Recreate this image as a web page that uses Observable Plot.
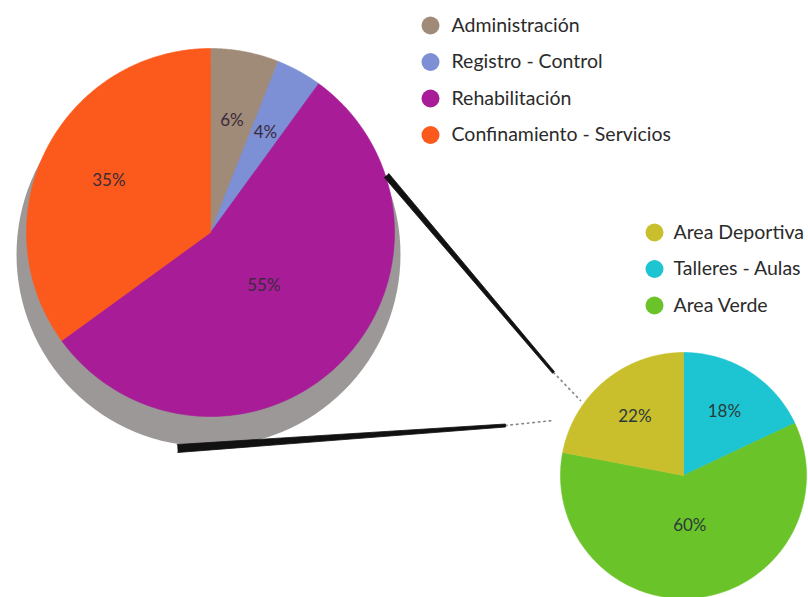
<!DOCTYPE html>
<html><head><meta charset="utf-8">
<script src="https://cdn.jsdelivr.net/npm/d3@7"></script>
<script src="https://cdn.jsdelivr.net/npm/@observablehq/plot@0.6"></script>
<style>body{margin:0;background:#fff}#chart svg{display:block}</style>
</head><body><div id="chart"></div>
<script>
// ---- data ----
const mainCategories = ["Administración", "Registro - Control", "Rehabilitación", "Confinamiento - Servicios"];
const mainValues = [6, 4, 55, 35];
const mainColors = ["#a08b79", "#7d8fd5", "#a81c98", "#fb5a1c"];
const subCategories = ["Talleres - Aulas", "Area Verde", "Area Deportiva"];
const subValues = [18, 60, 22];
const subColors = ["#1dc5d3", "#6bc32a", "#c9bf2d"];
const subLegendOrder = ["Area Deportiva", "Talleres - Aulas", "Area Verde"];

// ---- layout ----
const W = 808, H = 597;
const FONT = "Lato, 'Open Sans', sans-serif";
const big = {cx: 210, cy: 232, r: 184};
const shadow = {cx: 208, cy: 254, r: 192};
const small = {cx: 683, cy: 475, r: 123};

const pt = (c, a, r) => ({x: c.cx + r * Math.sin(a), y: c.cy - r * Math.cos(a)});

function pieData(cats, vals, colors, c) {
  const arcs = d3.pie().sort(null).value(d => d.v)(cats.map((k, i) => ({k, v: vals[i], color: colors[i]})));
  const polys = [], labels = [];
  for (const a of arcs) {
    const pts = [{x: c.cx, y: c.cy}];
    const n = Math.max(4, Math.ceil((a.endAngle - a.startAngle) / 0.01));
    for (let i = 0; i <= n; i++) pts.push(pt(c, a.startAngle + (a.endAngle - a.startAngle) * i / n, c.r));
    pts.push({x: c.cx, y: c.cy});
    polys.push({color: a.data.color, pts});
    const mid = (a.startAngle + a.endAngle) / 2;
    const lr = c.r * (a.data.v > 50 ? 0.41 : 0.62);
    labels.push({...pt(c, mid, lr), text: a.data.v + "%"});
  }
  return {polys, labels};
}
const mainPie = pieData(mainCategories, mainValues, mainColors, big);
const subPie = pieData(subCategories, subValues, subColors, small);

// tapered brush connectors
function taper(p0, p1, w0, w1) {
  const dx = p1.x - p0.x, dy = p1.y - p0.y, L = Math.hypot(dx, dy);
  const nx = -dy / L, ny = dx / L;
  return [
    {x: p0.x + nx * w0 / 2, y: p0.y + ny * w0 / 2},
    {x: p1.x + nx * w1 / 2, y: p1.y + ny * w1 / 2},
    {x: p1.x - nx * w1 / 2, y: p1.y - ny * w1 / 2},
    {x: p0.x - nx * w0 / 2, y: p0.y - ny * w0 / 2}
  ];
}
const c1s = pt(big, 72 * Math.PI / 180, big.r + 1), c1e = {x: 553, y: 372}, c1f = {x: 580, y: 400};
const c2s = {x: 177, y: 448}, c2e = {x: 505, y: 425}, c2f = {x: 552, y: 420};

const leg1 = mainCategories.map((k, i) => ({k, color: mainColors[i], x: 430, y: 25 + i * 36.5}));
const leg2 = subLegendOrder.map((k, i) => ({k, color: subColors[subCategories.indexOf(k)], x: 654, y: 232 + i * 36.5}));

const marks = [
  Plot.dot([shadow], {x: "cx", y: "cy", r: shadow.r, fill: "#9c9897"}),
  ...mainPie.polys.map(p => Plot.line(p.pts, {x: "x", y: "y", fill: p.color, stroke: p.color, strokeWidth: 0.6})),
  ...subPie.polys.map(p => Plot.line(p.pts, {x: "x", y: "y", fill: p.color, stroke: p.color, strokeWidth: 0.6})),
  Plot.line(taper(c1s, c1e, 6, 2.5), {x: "x", y: "y", fill: "#111", stroke: "#111", strokeWidth: 0.8}),
  Plot.line([c1e, c1f], {x: "x", y: "y", stroke: "#333", strokeWidth: 1.6, strokeDasharray: "1.5,4", strokeOpacity: 0.6}),
  Plot.line(taper(c2s, c2e, 8, 3), {x: "x", y: "y", fill: "#111", stroke: "#111", strokeWidth: 0.8}),
  Plot.line([c2e, c2f], {x: "x", y: "y", stroke: "#333", strokeWidth: 1.6, strokeDasharray: "1.5,4", strokeOpacity: 0.6}),
  Plot.text(mainPie.labels, {x: "x", y: "y", text: "text", fontSize: 17, fill: "#3a2a3a", fontFamily: FONT}),
  Plot.text(subPie.labels, {x: "x", y: "y", text: "text", fontSize: 17, fill: "#2a3a3a", fontFamily: FONT}),
  Plot.dot(leg1, {x: "x", y: "y", r: 9, fill: "color"}),
  Plot.text(leg1, {x: "x", y: "y", text: "k", dx: 21, textAnchor: "start", fontSize: 19.5, fill: "#2b2b2b", fontFamily: FONT}),
  Plot.dot(leg2, {x: "x", y: "y", r: 9, fill: "color"}),
  Plot.text(leg2, {x: "x", y: "y", text: "k", dx: 19, textAnchor: "start", fontSize: 19.5, fill: "#2b2b2b", fontFamily: FONT})
];

const chart = Plot.plot({
  width: W, height: H, margin: 0,
  x: {type: "identity", axis: null},
  y: {type: "identity", axis: null},
  color: {type: "identity"},
  marks
});
document.getElementById("chart").appendChild(chart);
</script>
</body></html>
